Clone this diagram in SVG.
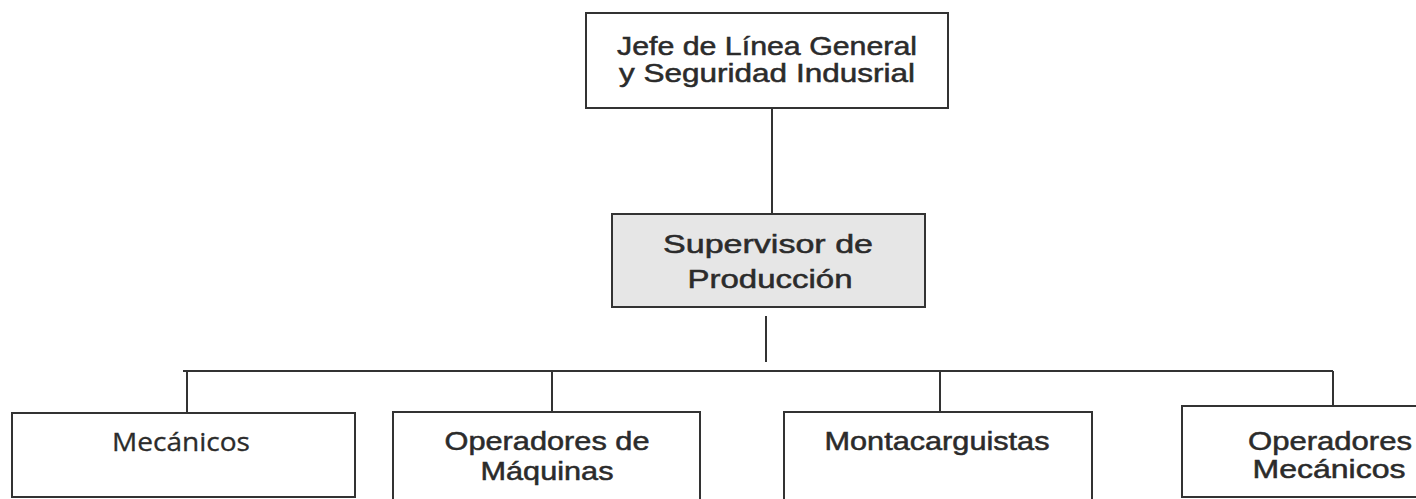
<svg xmlns="http://www.w3.org/2000/svg" width="1416" height="499" viewBox="0 0 1416 499">
<style>
.box{fill:#ffffff;stroke:#333333;stroke-width:2}
.gray{fill:#e6e6e6}
.t{font-family:"Liberation Sans",Arial,sans-serif;font-size:25px;fill:#2b2b2b;stroke:#2b2b2b;stroke-width:0.5;text-anchor:middle}
.c{font-family:"Open Sans","Noto Sans",sans-serif;font-size:25px;fill:#2b2b2b;stroke:#2b2b2b;stroke-width:0.3;text-anchor:middle}
.ln{stroke:#333333;stroke-width:2;fill:none}
</style>
<rect width="1416" height="499" fill="#ffffff"/>
<g id="connectors">
<line class="ln" x1="772" y1="108" x2="772" y2="214"/>
<line class="ln" x1="766" y1="316" x2="766" y2="362"/>
<line class="ln" x1="183" y1="371" x2="1333" y2="371"/>
<line class="ln" x1="187" y1="371" x2="187" y2="413"/>
<line class="ln" x1="552" y1="371" x2="552" y2="412"/>
<line class="ln" x1="940" y1="371" x2="940" y2="412"/>
<line class="ln" x1="1333" y1="371" x2="1333" y2="406"/>
</g>
<g id="jefe">
<rect class="box" x="586" y="13" width="362" height="95"/>
<text class="t" x="767" y="55" textLength="300" lengthAdjust="spacingAndGlyphs">Jefe de Línea General</text>
<text class="t" x="767" y="82" textLength="296" lengthAdjust="spacingAndGlyphs">y Seguridad Indusrial</text>
</g>
<g id="supervisor">
<rect class="box gray" x="612" y="214" width="313" height="93"/>
<text class="t" x="768" y="253" font-size="28" textLength="210" lengthAdjust="spacingAndGlyphs">Supervisor de</text>
<text class="t" x="770" y="288" font-size="28" textLength="165" lengthAdjust="spacingAndGlyphs">Producción</text>
</g>
<g id="mecanicos">
<rect class="box" x="12" y="413" width="343" height="84"/>
<text class="c" x="181" y="451" textLength="138" lengthAdjust="spacingAndGlyphs">Mecánicos</text>
</g>
<g id="operadores-maquinas">
<rect class="box" x="393" y="412" width="307" height="90"/>
<text class="t" x="547" y="450" textLength="205" lengthAdjust="spacingAndGlyphs">Operadores de</text>
<text class="t" x="547" y="480" textLength="133" lengthAdjust="spacingAndGlyphs">Máquinas</text>
</g>
<g id="montacarguistas">
<rect class="box" x="784" y="412" width="308" height="90"/>
<text class="t" x="937" y="450" textLength="225" lengthAdjust="spacingAndGlyphs">Montacarguistas</text>
</g>
<g id="operadores-mecanicos">
<rect class="box" x="1182" y="406" width="250" height="91"/>
<text class="t" x="1330" y="450" textLength="164" lengthAdjust="spacingAndGlyphs">Operadores</text>
<text class="t" x="1329" y="478" textLength="153" lengthAdjust="spacingAndGlyphs">Mecánicos</text>
</g>
</svg>
